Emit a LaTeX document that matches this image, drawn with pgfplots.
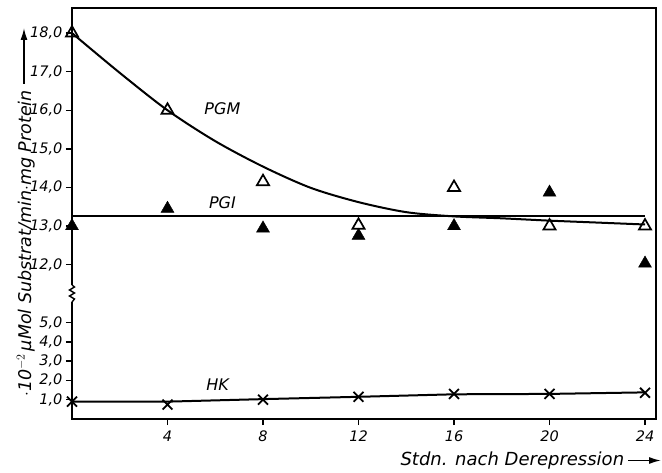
\documentclass[border=0pt]{standalone}
\usepackage{fontspec}
\setmainfont{DejaVu Sans}
\usepackage{pgfplots}
\usepackage{pgfplotstable}
\pgfplotsset{compat=1.18}
\usetikzlibrary{arrows.meta}

% measured values (upper part: PGM, PGI; lower part: HK)
\pgfplotstableread{
x y
0 18.0
4 16.0
8 14.15
12 13.02
16 14.0
20 13.0
24 13.0
}\pgmdata
\pgfplotstableread{
x y
0 13.0
4 13.45
8 12.94
12 12.75
16 13.0
20 13.87
24 12.03
}\pgidata
\pgfplotstableread{
x y
0 0.9
4 0.75
8 1.0
12 1.15
16 1.3
20 1.3
24 1.36
}\hkdata
% drawn fit curves
\pgfplotstableread{
x y
0 18.0
2 16.97
4 16.0
6 15.2
8 14.54
10 13.99
12 13.62
14 13.36
16 13.25
18 13.2
20 13.14
22 13.09
24 13.04
}\pgmfit
\pgfplotstableread{
x y
0 13.25
24 13.25
}\pgifit
\pgfplotstableread{
x y
0 0.9
4 0.9
8 1.03
12 1.15
16 1.28
20 1.3
24 1.38
}\hkfit

\begin{document}
\begin{tikzpicture}[x=1pt,y=1pt]
\path[use as bounding box] (0,0) rectangle (662,472);
\begin{axis}[
  at={(72pt,53pt)}, anchor=south west,
  width=584pt, height=411pt, scale only axis,
  xmin=0, xmax=24.46, ymin=0, ymax=21.3,
  xtick={4,8,12,16,20,24}, xticklabels={4,8,12,16,20,24},
  ytick={1,2,3,4,5,8,10,12,14,16,18,20},
  yticklabels={{1,0},{2,0},{3,0},{4,0},{5,0},{12,0},{13,0},{14,0},{15,0},{16,0},{17,0},{18,0}},
  xtick pos=bottom, ytick pos=left,
  tick align=outside, major tick length=6pt,
  tick style={black, line width=1.4pt},
  axis line style={line width=1.6pt},
  ticklabel style={font=\fontsize{14.5}{14.5}\selectfont\itshape},
  xticklabel style={yshift=-2pt},
  clip=false,
]
% upper part (scale 2 per unit, 12,0 at 8)
\addplot[black, line width=2pt, smooth, tension=0.5, no marks] table[x=x, y expr=2*\thisrow{y}-16]{\pgmfit};
\addplot[black, line width=2pt, no marks] table[x=x, y expr=2*\thisrow{y}-16]{\pgifit};
\addplot[only marks, mark=triangle, mark size=7pt, mark options={black, fill=white, line width=1.7pt}] table[x=x, y expr=2*\thisrow{y}-16]{\pgmdata};
\addplot[only marks, mark=triangle*, mark size=7.5pt, mark options={black, fill=black}] table[x=x, y expr=2*\thisrow{y}-16]{\pgidata};
% lower part
\addplot[black, line width=2pt, no marks] table[x=x, y=y]{\hkfit};
\addplot[only marks, mark=x, mark size=7pt, mark options={black, line width=1.8pt}] table[x=x, y=y]{\hkdata};
\node[font=\fontsize{16}{16}\selectfont\itshape] at (axis cs:6.3,16.1) {PGM};
\node[font=\fontsize{16}{16}\selectfont\itshape] at (axis cs:6.3,11.2) {PGI};
\node[font=\fontsize{16}{16}\selectfont\itshape] at (axis cs:6.1,1.8) {HK};
\end{axis}
% axis break on the left line
\fill[white] (69,170) rectangle (75,187);
\draw[line width=1.4pt] (72,187) -- (74.5,185) -- (69.5,182) -- (74.5,179) -- (69.5,176) -- (74.5,173) -- (72,170);
% axis titles
\node[rotate=90, anchor=base, font=\fontsize{17.5}{17.5}\selectfont\itshape] at (31,228.5) {$\cdot$10$^{-2}$\,μMol Substrat/min$\cdot$mg Protein};
\draw[line width=1.5pt, -{Latex[length=12pt,width=7pt]}] (24,388) -- (24,444);
\node[anchor=base west, font=\fontsize{18}{18}\selectfont\itshape] at (397,7) {Stdn. nach Derepression};
\draw[line width=1.5pt, -{Latex[length=12pt,width=7pt]}] (628,11.5) -- (661,11.5);
\end{tikzpicture}
\end{document}
